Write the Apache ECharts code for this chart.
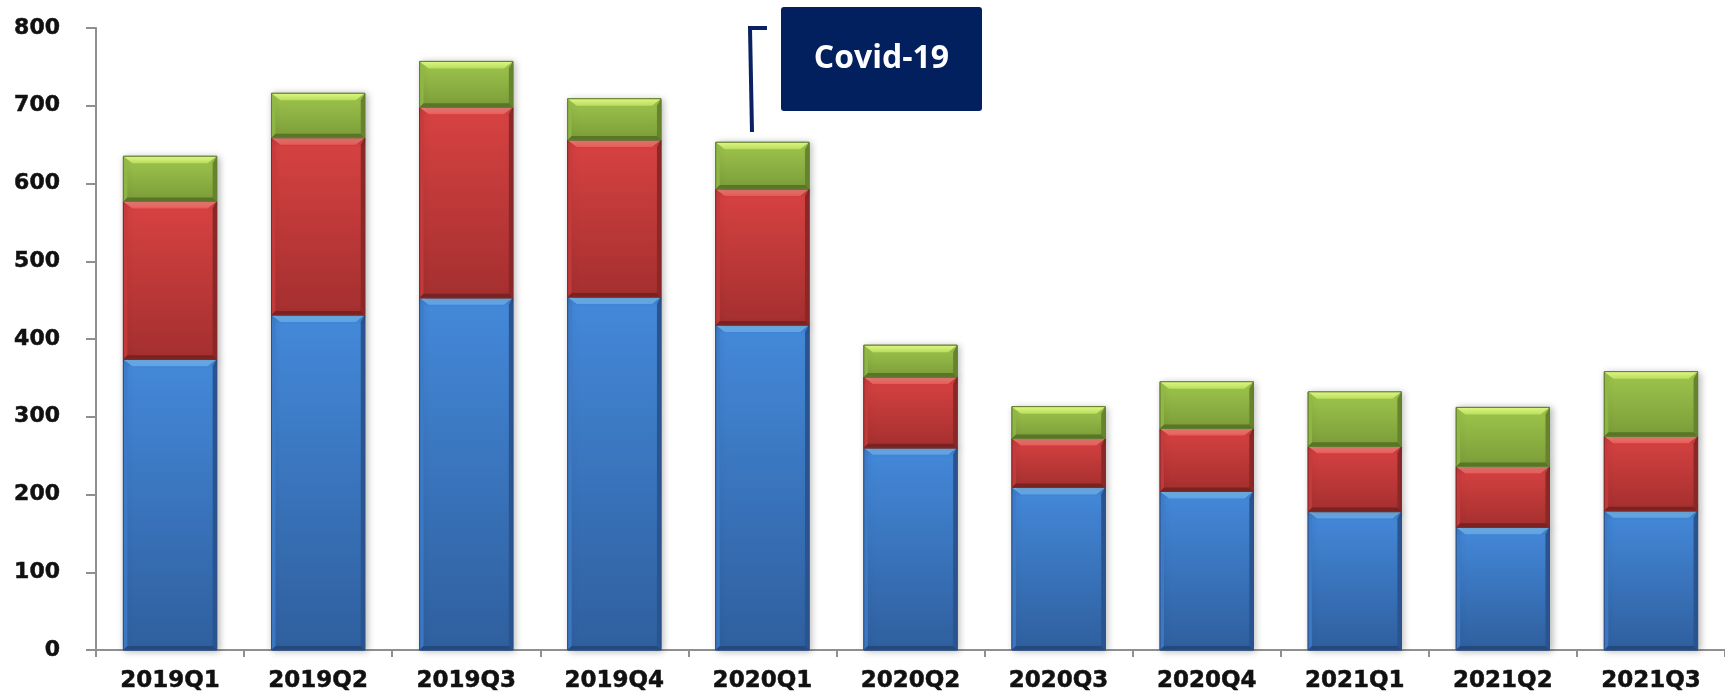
<!DOCTYPE html>
<html>
<head>
<meta charset="utf-8">
<script src="https://cdn.jsdelivr.net/npm/echarts@6/dist/echarts.min.js"></script>
<style>
  html, body { margin: 0; padding: 0; background: #ffffff; }
  #chart { width: 1725px; height: 696px; }
</style>
</head>
<body>
<div id="chart"></div>
<script>
const categories = ['2019Q1','2019Q2','2019Q3','2019Q4','2020Q1','2020Q2','2020Q3','2020Q4','2021Q1','2021Q2','2021Q3'];
const blueValues  = [374, 431, 453, 454, 418, 260, 209, 204, 178, 158, 179];
const redValues   = [203, 228, 245, 202, 175,  91,  63,  81,  84,  78,  96];
const greenValues = [ 58,  57,  59,  53,  60,  41,  41,  60,  70,  76,  83];
const yTicks = [0, 100, 200, 300, 400, 500, 600, 700, 800];
const annotationText = 'Covid-19';

// stacked layers: [categoryIndex, base, top]
function stackLayer(values, below) {
  return values.map((v, i) => {
    const base = below.reduce((s, arr) => s + arr[i], 0);
    return [i, base, base + v];
  });
}

const palettes = {
  blue:  { top: '#7fc3fa', topEnd: '#5da5ec', main0: '#4489da', main1: '#2f5f9e', left: '#3d7bc8', right: '#2a5490', bottom: '#24497d', border: '#2b5189' },
  red:   { top: '#ff8e88', topEnd: '#ec5b56', main0: '#d84242', main1: '#a42f2f', left: '#c73b3b', right: '#8a2828', bottom: '#7a2222', border: '#862828' },
  green: { top: '#ddf782', topEnd: '#b9de5e', main0: '#9fc64d', main1: '#7b9c39', left: '#90b845', right: '#66832e', bottom: '#5a7428', border: '#637f2d' }
};

function bevelRender(pal) {
  return function (params, api) {
    const idx = api.value(0);
    const p0 = api.coord([idx, api.value(1)]);
    const p1 = api.coord([idx, api.value(2)]);
    const w = api.size([1, 0])[0] * 0.63;
    const x0 = p0[0] - w / 2, x1 = p0[0] + w / 2;
    const yTop = p1[1], yBot = p0[1];
    const h = yBot - yTop;
    const bx = Math.min(9, w / 4);
    const by = Math.min(7, h / 3);
    const byb = Math.min(4, h / 4);
    const bs = Math.min(4, w / 8);
    return {
      type: 'group',
      children: [
        { type: 'rect', shape: { x: x0, y: yTop, width: w, height: h },
          style: { fill: new echarts.graphic.LinearGradient(0, 0, 0, 1, [
            { offset: 0, color: pal.main0 }, { offset: 1, color: pal.main1 }]),
            stroke: pal.border, lineWidth: 1,
            shadowBlur: 7, shadowColor: 'rgba(0,0,0,0.28)', shadowOffsetX: 2, shadowOffsetY: 1 } },
        { type: 'polygon', shape: { points: [[x0, yTop], [x0 + bs, yTop + by], [x0 + bs, yBot - byb], [x0, yBot]] },
          style: { fill: pal.left, opacity: 0.85 } },
        { type: 'polygon', shape: { points: [[x1, yTop], [x1 - bs, yTop + by], [x1 - bs, yBot - byb], [x1, yBot]] },
          style: { fill: pal.right } },
        { type: 'polygon', shape: { points: [[x0, yBot], [x0 + bs, yBot - byb], [x1 - bs, yBot - byb], [x1, yBot]] },
          style: { fill: pal.bottom } },
        { type: 'polygon', shape: { points: [[x0, yTop], [x1, yTop], [x1 - bx, yTop + by], [x0 + bx, yTop + by]] },
          style: { fill: new echarts.graphic.LinearGradient(0, 0, 0, 1, [
            { offset: 0, color: pal.top }, { offset: 1, color: pal.topEnd }]) } },
        { type: 'rect', shape: { x: x0, y: yTop, width: w, height: h },
          style: { fill: null, stroke: pal.border, lineWidth: 1 } }
      ]
    };
  };
}

const chart = echarts.init(document.getElementById('chart'), null, { renderer: 'canvas' });

const labelStyle = {
  color: '#111111',
  fontFamily: 'DejaVu Sans',
  fontWeight: 'bold',
  textBorderColor: '#111111',
  textBorderWidth: 0.5
};

chart.setOption({
  backgroundColor: '#ffffff',
  animation: false,
  grid: { left: 96, right: -5, top: 28, bottom: 46, containLabel: false },
  xAxis: {
    type: 'category',
    data: categories,
    axisLine: { lineStyle: { color: '#8f8f8f', width: 2 } },
    axisTick: { show: true, length: 7, lineStyle: { color: '#8f8f8f', width: 2 } },
    axisLabel: Object.assign({ margin: 20, fontSize: 23 }, labelStyle)
  },
  yAxis: {
    type: 'value',
    min: yTicks[0],
    max: yTicks[yTicks.length - 1],
    interval: 100,
    splitLine: { show: false },
    axisLine: { show: true, lineStyle: { color: '#8f8f8f', width: 2 } },
    axisTick: { show: true, length: 10, lineStyle: { color: '#8f8f8f', width: 2 } },
    axisLabel: Object.assign({ margin: 36, fontSize: 22 }, labelStyle)
  },
  series: [
    { type: 'custom', name: 'Blue', renderItem: bevelRender(palettes.blue),
      encode: { x: 0, y: [1, 2] }, data: stackLayer(blueValues, []) },
    { type: 'custom', name: 'Red', renderItem: bevelRender(palettes.red),
      encode: { x: 0, y: [1, 2] }, data: stackLayer(redValues, [blueValues]) },
    { type: 'custom', name: 'Green', renderItem: bevelRender(palettes.green),
      encode: { x: 0, y: [1, 2] }, data: stackLayer(greenValues, [blueValues, redValues]) }
  ],
  graphic: [
    {
      type: 'polyline',
      shape: { points: [[767, 28], [750, 28], [752, 132]] },
      style: { stroke: '#0a2263', lineWidth: 4, fill: null }
    },
    {
      type: 'rect',
      shape: { x: 781, y: 7, width: 201, height: 104, r: 3 },
      style: { fill: '#03205e' }
    },
    {
      type: 'text',
      x: 881.5, y: 59,
      style: {
        text: annotationText,
        fill: '#ffffff',
        font: 'bold 32px "Open Sans"',
        textAlign: 'center',
        textVerticalAlign: 'middle'
      }
    }
  ]
});
</script>
</body>
</html>
